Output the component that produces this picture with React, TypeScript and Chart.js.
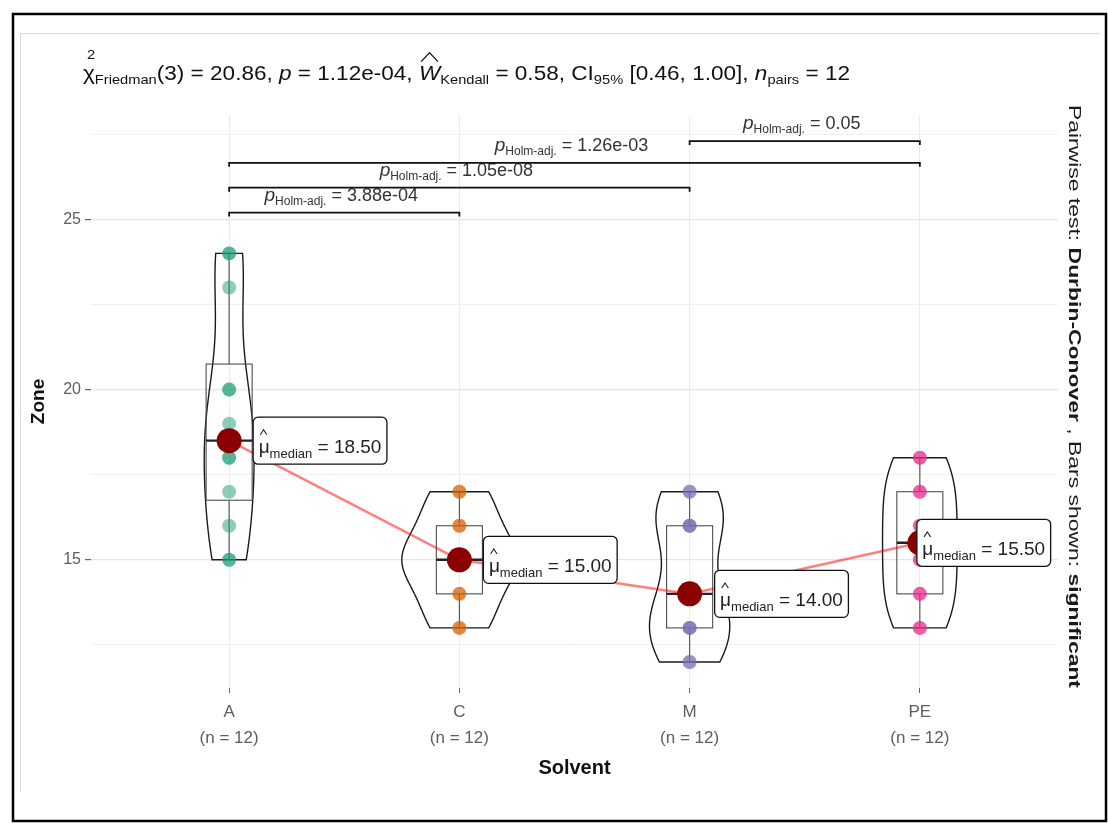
import { useEffect, useRef } from 'react';
import { Chart, registerables } from 'chart.js';

Chart.register(...registerables);

// ---------------- data ----------------
const categories = ['A', 'C', 'M', 'PE'];
const zoneA = [15, 15, 16, 17, 18, 18, 19, 20, 20, 23, 24, 24];
const zoneC = [13, 13, 14, 14, 15, 15, 15, 15, 16, 16, 17, 17];
const zoneM = [12, 12, 13, 13, 13, 14, 14, 16, 16, 16, 17, 17];
const zonePE = [13, 13, 14, 14, 15, 15, 16, 16, 17, 17, 18, 18];
const series = [zoneA, zoneC, zoneM, zonePE];
const groupColors = ['#1B9E77', '#D95F02', '#7570B3', '#E7298A'];

const yMajorTicks = [15, 20, 25];
const yAllTicks = [12.5, 15, 17.5, 20, 22.5, 25, 27.5];

// pairwise brackets (from, to, bracket height, Holm-adjusted p)
const pairFrom = [0, 0, 0, 2];
const pairTo = [1, 2, 3, 3];
const pairY = [25.2, 25.93, 26.66, 27.3];
const pairP = ['3.88e-04', '1.05e-08', '1.26e-03', '0.05'];

// test statistics for the subtitle
const friedmanDf = 3;
const friedmanChi = '20.86';
const friedmanP = '1.12e-04';
const kendallW = '0.58';
const ciLow = '0.46';
const ciHigh = '1.00';
const nPairs = 12;

// ---------------- helpers ----------------
const FAMILY = '"Liberation Sans", Arial, Helvetica, sans-serif';

function sortNum(a: number[]) {
  return [...a].sort((p, q) => p - q);
}
function quantile7(sorted: number[], p: number) {
  const h = (sorted.length - 1) * p;
  const lo = Math.floor(h);
  const hi = Math.min(lo + 1, sorted.length - 1);
  return sorted[lo] + (h - lo) * (sorted[hi] - sorted[lo]);
}
function sd(a: number[]) {
  const m = a.reduce((s, v) => s + v, 0) / a.length;
  return Math.sqrt(a.reduce((s, v) => s + (v - m) * (v - m), 0) / (a.length - 1));
}
function bwNrd0(a: number[]) {
  const s = sortNum(a);
  const iqr = quantile7(s, 0.75) - quantile7(s, 0.25);
  let lo = Math.min(sd(a), iqr / 1.34);
  if (!(lo > 0)) lo = sd(a) || Math.abs(s[0]) || 1;
  return 0.9 * lo * Math.pow(a.length, -0.2);
}
function kde(a: number[]): [number, number][] {
  const bw = bwNrd0(a);
  const lo = Math.min(...a);
  const hi = Math.max(...a);
  const out: [number, number][] = [];
  const n = 256;
  for (let k = 0; k < n; k++) {
    const v = lo + ((hi - lo) * k) / (n - 1);
    let s = 0;
    for (const xi of a) {
      const z = (v - xi) / bw;
      s += Math.exp(-0.5 * z * z) / Math.sqrt(2 * Math.PI);
    }
    out.push([v, s / (a.length * bw)]);
  }
  return out;
}
const medians = series.map((s) => quantile7(sortNum(s), 0.5));

type Run = {
  t: string;
  size: number;
  italic?: boolean;
  bold?: boolean;
  dy?: number;
  dx?: number;
  hat?: 'small' | 'wide';
  noAdvance?: boolean;
};
function fontOf(r: Run) {
  return `${r.italic ? 'italic ' : ''}${r.bold ? 'bold ' : ''}${r.size}px ${FAMILY}`;
}
function runsWidth(ctx: CanvasRenderingContext2D, runs: Run[]) {
  let w = 0;
  for (const r of runs) {
    ctx.font = fontOf(r);
    if (!r.noAdvance) w += ctx.measureText(r.t).width;
  }
  return w;
}
function drawRuns(
  ctx: CanvasRenderingContext2D,
  runs: Run[],
  x: number,
  y: number,
  color: string,
  sx = 1
) {
  ctx.save();
  ctx.translate(x, y);
  ctx.scale(sx, 1);
  ctx.textBaseline = 'alphabetic';
  ctx.textAlign = 'left';
  ctx.fillStyle = color;
  ctx.strokeStyle = color;
  let cx = 0;
  for (const r of runs) {
    ctx.font = fontOf(r);
    const w = ctx.measureText(r.t).width;
    const gx = cx + (r.dx ?? 0);
    const gy = r.dy ?? 0;
    ctx.fillText(r.t, gx, gy);
    if (r.hat) {
      ctx.beginPath();
      ctx.lineWidth = 1.1;
      if (r.hat === 'wide') {
        const base = gy - r.size * 0.72 - 4;
        ctx.moveTo(gx + 2, base);
        ctx.lineTo(gx + w / 2, base - 9);
        ctx.lineTo(gx + w - 2, base);
      } else {
        const base = gy - r.size * 0.52 - 8;
        ctx.moveTo(gx + w * 0.15, base);
        ctx.lineTo(gx + w * 0.45, base - 5);
        ctx.lineTo(gx + w * 0.75, base);
      }
      ctx.stroke();
    }
    if (!r.noAdvance) cx += w;
  }
  ctx.restore();
}

// label offsets (px) of the centrality labels relative to the median point
const labelDx = [24, 24, 25, -3];

const overlay = {
  id: 'overlay',
  beforeDatasetsDraw(chart: any) {
    const { ctx, scales } = chart;
    const x = scales.x;
    const y = scales.y;
    const dens = series.map((s) => kde(s));
    const maxD = Math.max(...dens.map((d) => Math.max(...d.map((p) => p[1]))));
    ctx.save();
    series.forEach((s, i) => {
      const cx = x.getPixelForValue(i);
      const unit = x.getPixelForValue(i + 1) - cx;
      // violin (width 0.5, scale = area)
      const d = dens[i];
      ctx.beginPath();
      d.forEach(([v, den], k) => {
        const px = cx + 0.25 * unit * (den / maxD);
        const py = y.getPixelForValue(v);
        if (k === 0) ctx.moveTo(px, py);
        else ctx.lineTo(px, py);
      });
      for (let k = d.length - 1; k >= 0; k--) {
        const [v, den] = d[k];
        ctx.lineTo(cx - 0.25 * unit * (den / maxD), y.getPixelForValue(v));
      }
      ctx.closePath();
      ctx.lineWidth = 1.4;
      ctx.strokeStyle = '#1a1a1a';
      ctx.stroke();

      // boxplot (width 0.2)
      const srt = sortNum(s);
      const q1 = quantile7(srt, 0.25);
      const q2 = quantile7(srt, 0.5);
      const q3 = quantile7(srt, 0.75);
      const iqr = q3 - q1;
      const upper = Math.max(...srt.filter((v) => v <= q3 + 1.5 * iqr));
      const lower = Math.min(...srt.filter((v) => v >= q1 - 1.5 * iqr));
      const hw = 0.1 * unit;
      ctx.strokeStyle = '#4d4d4d';
      ctx.lineWidth = 1.1;
      ctx.beginPath();
      ctx.moveTo(cx, y.getPixelForValue(q3));
      ctx.lineTo(cx, y.getPixelForValue(upper));
      ctx.moveTo(cx, y.getPixelForValue(q1));
      ctx.lineTo(cx, y.getPixelForValue(lower));
      ctx.stroke();
      const top = y.getPixelForValue(q3);
      const bot = y.getPixelForValue(q1);
      ctx.strokeRect(cx - hw, top, 2 * hw, bot - top);
      ctx.beginPath();
      ctx.lineWidth = 2.4;
      ctx.strokeStyle = '#222';
      ctx.moveTo(cx - hw, y.getPixelForValue(q2));
      ctx.lineTo(cx + hw, y.getPixelForValue(q2));
      ctx.stroke();
    });
    ctx.restore();
  },
  afterDatasetsDraw(chart: any) {
    const { ctx, scales } = chart;
    const x = scales.x;
    const y = scales.y;
    ctx.save();
    // significance brackets
    pairFrom.forEach((a, k) => {
      const b = pairTo[k];
      const x1 = x.getPixelForValue(a);
      const x2 = x.getPixelForValue(b);
      const py = y.getPixelForValue(pairY[k]);
      ctx.beginPath();
      ctx.strokeStyle = '#111';
      ctx.lineWidth = 1.8;
      ctx.moveTo(x1, py + 4);
      ctx.lineTo(x1, py);
      ctx.lineTo(x2, py);
      ctx.lineTo(x2, py + 4);
      ctx.stroke();
      const runs: Run[] = [
        { t: 'p', size: 19, italic: true },
        { t: 'Holm-adj.', size: 12, dy: 4 },
        { t: ' = ' + pairP[k], size: 18 },
      ];
      const w = runsWidth(ctx, runs);
      drawRuns(ctx, runs, (x1 + x2) / 2 - w / 2 - 3, py - 12, '#333');
    });

    // centrality labels
    medians.forEach((m, i) => {
      const px = x.getPixelForValue(i);
      const py = y.getPixelForValue(m);
      const runs: Run[] = [
        { t: 'μ', size: 19, hat: 'small' },
        { t: 'median', size: 13, dy: 5 },
        { t: ' = ' + m.toFixed(2), size: 19 },
      ];
      const w = runsWidth(ctx, runs);
      const left = px + labelDx[i];
      const bw = w + 11;
      const bh = 47;
      const top = py - bh / 2;
      ctx.beginPath();
      (ctx as any).roundRect(left, top, bw, bh, 5);
      ctx.fillStyle = '#fff';
      ctx.fill();
      ctx.lineWidth = 1.3;
      ctx.strokeStyle = '#111';
      ctx.stroke();
      drawRuns(ctx, runs, left + 5.5, py + 12, '#222');
    });
    ctx.restore();
  },
  afterDraw(chart: any) {
    const { ctx } = chart;
    ctx.save();
    // subtitle
    const title: Run[] = [
      { t: 'χ', size: 20 },
      { t: '2', size: 13, dy: -21, dx: -7, noAdvance: true },
      { t: 'Friedman', size: 13, dy: 4 },
      { t: `(${friedmanDf}) = ${friedmanChi}, `, size: 20 },
      { t: 'p', size: 20, italic: true },
      { t: ` = ${friedmanP}, `, size: 20 },
      { t: 'W', size: 20, italic: true, hat: 'wide' },
      { t: 'Kendall', size: 13, dy: 4 },
      { t: ` = ${kendallW}, CI`, size: 20 },
      { t: '95%', size: 13, dy: 4 },
      { t: ` [${ciLow}, ${ciHigh}], `, size: 20 },
      { t: 'n', size: 20, italic: true },
      { t: 'pairs', size: 13, dy: 4 },
      { t: ` = ${nPairs}`, size: 20 },
    ];
    const tw = runsWidth(ctx, title);
    drawRuns(ctx, title, 83, 80, '#111', 767 / tw);

    // right-side caption (rotated)
    const cap: Run[] = [
      { t: 'Pairwise test: ', size: 17 },
      { t: 'Durbin-Conover', size: 17, bold: true },
      { t: ' , Bars shown: ', size: 17 },
      { t: 'significant', size: 17, bold: true },
    ];
    const cw = runsWidth(ctx, cap);
    ctx.save();
    ctx.translate(1069, 105);
    ctx.rotate(Math.PI / 2);
    drawRuns(ctx, cap, 0, 0, '#1a1a1a', 583 / cw);
    ctx.restore();

    // frames
    ctx.strokeStyle = '#d6d6d6';
    ctx.lineWidth = 1;
    ctx.beginPath();
    ctx.moveTo(20.5, 792);
    ctx.lineTo(20.5, 33.5);
    ctx.lineTo(1100, 33.5);
    ctx.stroke();
    ctx.strokeStyle = '#000';
    ctx.lineWidth = 2.5;
    ctx.strokeRect(13, 14, 1093, 807);
    ctx.restore();
  },
};

const allValues = series.flat();
const dataLo = Math.min(...allValues);
const dataHi = Math.max(...pairY, ...allValues);
const yPad = 0.05 * (dataHi - dataLo);

function rgba(hex: string, a: number) {
  const n = parseInt(hex.slice(1), 16);
  return `rgba(${(n >> 16) & 255},${(n >> 8) & 255},${n & 255},${a})`;
}

export default function App() {
  const ref = useRef<HTMLCanvasElement>(null);
  useEffect(() => {
    const canvas = ref.current;
    if (!canvas) return;
    Chart.defaults.font.family = FAMILY;
    const datasets: any[] = [
      {
        type: 'scatter',
        data: medians.map((m, i) => ({ x: i, y: m })),
        pointRadius: 12.5,
        pointBackgroundColor: '#8B0000',
        pointBorderWidth: 0,
        order: 1,
      },
      {
        type: 'line',
        data: medians.map((m, i) => ({ x: i, y: m })),
        borderColor: 'rgba(255,0,0,0.5)',
        borderWidth: 2.5,
        pointRadius: 0,
        showLine: true,
        tension: 0,
        fill: false,
        order: 2,
      },
      ...series.map((s, i) => ({
        type: 'scatter',
        data: s.map((v) => ({ x: i, y: v })),
        pointRadius: 7,
        pointBackgroundColor: rgba(groupColors[i], 0.5),
        pointBorderWidth: 0,
        order: 3,
      })),
    ];
    const chart = new Chart(canvas, {
      type: 'scatter',
      data: { datasets },
      plugins: [overlay],
      options: {
        responsive: false,
        animation: false,
        devicePixelRatio: 1,
        events: [],
        layout: { padding: { left: 18, top: 115, right: 50, bottom: 30 } },
        plugins: {
          legend: { display: false },
          tooltip: { enabled: false },
          title: { display: false },
        },
        scales: {
          x: {
            type: 'linear',
            position: 'bottom',
            min: -0.6,
            max: 3.6,
            afterBuildTicks: (s: any) => {
              s.ticks = categories.map((_, i) => ({ value: i }));
            },
            afterFit: (s: any) => {
              s.height = 105;
            },
            ticks: {
              callback: (v: any) => [categories[v], `(n = ${series[v].length})`],
              color: '#5e5e5e',
              font: { size: 17, lineHeight: 1.5 },
              padding: 7,
              autoSkip: false,
              maxRotation: 0,
            },
            grid: {
              color: '#ebebeb',
              lineWidth: 1,
              tickLength: 5,
              tickColor: '#666',
            },
            border: { display: false },
            title: {
              display: true,
              text: 'Solvent',
              color: '#111',
              font: { size: 20, weight: 'bold' },
              padding: { top: 0, bottom: 13 },
            },
          },
          y: {
            type: 'linear',
            min: dataLo - yPad,
            max: dataHi + yPad,
            afterBuildTicks: (s: any) => {
              s.ticks = yAllTicks.map((v) => ({ value: v }));
            },
            afterFit: (s: any) => {
              s.width = 73;
            },
            ticks: {
              callback: (v: any) => (yMajorTicks.includes(v) ? String(v) : ''),
              color: '#5e5e5e',
              font: { size: 16 },
              padding: 4,
              autoSkip: false,
            },
            grid: {
              color: (c: any) => (yMajorTicks.includes(c.tick?.value) ? '#e6e6e6' : '#f0f0f0'),
              lineWidth: (c: any) => (yMajorTicks.includes(c.tick?.value) ? 1.2 : 1),
              tickLength: 6,
              tickColor: (c: any) =>
                yMajorTicks.includes(c.tick?.value) ? '#666' : 'rgba(0,0,0,0)',
            },
            border: { display: false },
            title: {
              display: true,
              text: 'Zone',
              color: '#111',
              font: { size: 19, weight: 'bold' },
              padding: { top: 9, bottom: 0 },
            },
          },
        },
      } as any,
    });
    return () => chart.destroy();
  }, []);
  return (
    <div
      style={{
        position: 'fixed',
        left: 0,
        top: 0,
        width: 1108,
        height: 823,
        background: '#fff',
      }}
    >
      <canvas ref={ref} width={1108} height={823} style={{ display: 'block', width: 1108, height: 823 }} />
    </div>
  );
}
